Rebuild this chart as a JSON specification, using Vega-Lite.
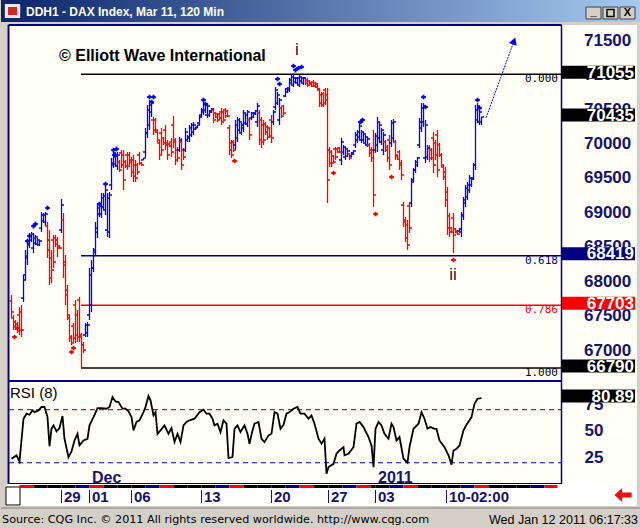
{
"$schema": "https://vega.github.io/schema/vega-lite/v6.json",
"background": "#D4D0C8",
"padding": 0,
"spacing": 0,
"bounds": "flush",
"config": {"view": {"stroke": null}, "font": "Liberation Sans"},
"datasets": {
"bars": [
{"i":1,"o":67764,"h":67851,"l":67517,"c":67604},{"i":2,"o":67517,"h":67561,"l":67342,"c":67386},{"i":3,"o":67459,"h":67488,"l":67342,"c":67357},{"i":4,"o":67430,"h":67459,"l":67299,"c":67328},{"i":5,"o":67561,"h":67676,"l":67270,"c":67342},{"i":6,"o":67604,"h":67705,"l":67241,"c":67342},{"i":7,"o":67807,"h":68141,"l":67749,"c":68068},{"i":8,"o":68141,"h":68504,"l":68068,"c":68417},{"i":9,"o":68388,"h":68649,"l":68286,"c":68591},{"i":10,"o":68577,"h":68751,"l":68533,"c":68707},
{"i":11,"o":68649,"h":68765,"l":68620,"c":68736},{"i":12,"o":68533,"h":68751,"l":68460,"c":68678},{"i":13,"o":68606,"h":68722,"l":68577,"c":68693},{"i":14,"o":68591,"h":68678,"l":68577,"c":68649},{"i":15,"o":68577,"h":68649,"l":68562,"c":68635},{"i":16,"o":68823,"h":69056,"l":68765,"c":69012},{"i":17,"o":68925,"h":69041,"l":68896,"c":69012},{"i":18,"o":68911,"h":69056,"l":68852,"c":69027},{"i":19,"o":68852,"h":68911,"l":68388,"c":68504},{"i":20,"o":68649,"h":68794,"l":67996,"c":68098},
{"i":21,"o":68388,"h":68504,"l":68025,"c":68214},{"i":22,"o":68649,"h":68722,"l":68243,"c":68330},{"i":23,"o":68678,"h":68722,"l":68548,"c":68591},{"i":24,"o":68649,"h":68693,"l":68402,"c":68533},{"i":25,"o":68562,"h":68577,"l":68519,"c":68533},{"i":26,"o":68794,"h":69245,"l":68751,"c":69157},{"i":27,"o":68940,"h":69041,"l":68098,"c":68286},{"i":28,"o":68330,"h":68431,"l":67705,"c":67851},{"i":29,"o":67923,"h":67996,"l":67488,"c":67561},{"i":30,"o":67517,"h":67561,"l":67168,"c":67226},
{"i":31,"o":67241,"h":67270,"l":67125,"c":67154},{"i":32,"o":67400,"h":67444,"l":67168,"c":67226},{"i":33,"o":67705,"h":67778,"l":67154,"c":67270},{"i":34,"o":67561,"h":67633,"l":67168,"c":67241},{"i":35,"o":67778,"h":67822,"l":67168,"c":67270},{"i":36,"o":67241,"h":67299,"l":66790,"c":67125},{"i":37,"o":67125,"h":67168,"l":67008,"c":67052},{"i":38,"o":67270,"h":67444,"l":67241,"c":67415},{"i":39,"o":67299,"h":67459,"l":67241,"c":67415},{"i":40,"o":67561,"h":68243,"l":67488,"c":68141},
{"i":41,"o":67705,"h":68359,"l":67604,"c":68243},{"i":42,"o":68243,"h":68533,"l":68185,"c":68475},{"i":43,"o":68504,"h":68911,"l":68431,"c":68823},{"i":44,"o":68765,"h":69186,"l":68678,"c":69114},{"i":45,"o":69027,"h":69186,"l":68983,"c":69143},{"i":46,"o":69027,"h":69332,"l":68969,"c":69259},{"i":47,"o":69128,"h":69332,"l":69085,"c":69288},{"i":48,"o":69085,"h":69448,"l":69012,"c":69375},{"i":49,"o":68794,"h":69332,"l":68693,"c":69259},{"i":50,"o":68765,"h":69346,"l":68678,"c":69303},
{"i":51,"o":69448,"h":69840,"l":69375,"c":69767},{"i":52,"o":69738,"h":69956,"l":69695,"c":69913},{"i":53,"o":69753,"h":69913,"l":69709,"c":69869},{"i":54,"o":69724,"h":69927,"l":69666,"c":69883},{"i":55,"o":69782,"h":69811,"l":69637,"c":69666},{"i":56,"o":69913,"h":69956,"l":69695,"c":69738},{"i":57,"o":69883,"h":69956,"l":69375,"c":69520},{"i":58,"o":69782,"h":69811,"l":69695,"c":69724},{"i":59,"o":69883,"h":69927,"l":69666,"c":69724},{"i":60,"o":69883,"h":69927,"l":69738,"c":69782},
{"i":61,"o":69811,"h":69854,"l":69564,"c":69637},{"i":62,"o":69811,"h":69883,"l":69491,"c":69578},{"i":63,"o":69738,"h":69811,"l":69491,"c":69549},{"i":64,"o":69738,"h":69767,"l":69593,"c":69637},{"i":65,"o":69883,"h":69927,"l":69738,"c":69767},{"i":66,"o":69767,"h":69782,"l":69724,"c":69738},{"i":67,"o":69811,"h":69840,"l":69811,"c":69840},{"i":68,"o":69927,"h":70276,"l":69854,"c":70203},{"i":69,"o":70203,"h":70609,"l":70130,"c":70537},{"i":70,"o":70319,"h":70682,"l":70246,"c":70609},
{"i":71,"o":70508,"h":70682,"l":70435,"c":70638},{"i":72,"o":70392,"h":70435,"l":70174,"c":70246},{"i":73,"o":70392,"h":70421,"l":70203,"c":70246},{"i":74,"o":70217,"h":70246,"l":70072,"c":70101},{"i":75,"o":70058,"h":70101,"l":69811,"c":69883},{"i":76,"o":70203,"h":70276,"l":69883,"c":69956},{"i":77,"o":70130,"h":70145,"l":70029,"c":70058},{"i":78,"o":70246,"h":70319,"l":69956,"c":70029},{"i":79,"o":70058,"h":70101,"l":69811,"c":69883},{"i":80,"o":70043,"h":70058,"l":70000,"c":70014},
{"i":81,"o":70072,"h":70130,"l":69854,"c":69927},{"i":82,"o":70319,"h":70450,"l":69985,"c":70101},{"i":83,"o":70072,"h":70130,"l":69738,"c":69811},{"i":84,"o":69956,"h":70000,"l":69782,"c":69840},{"i":85,"o":69956,"h":70145,"l":69927,"c":70101},{"i":86,"o":70072,"h":70130,"l":69666,"c":69738},{"i":87,"o":69956,"h":69985,"l":69811,"c":69854},{"i":88,"o":69956,"h":70276,"l":69927,"c":70217},{"i":89,"o":70101,"h":70174,"l":70072,"c":70145},{"i":90,"o":70130,"h":70319,"l":70072,"c":70276},
{"i":91,"o":70174,"h":70348,"l":70145,"c":70319},{"i":92,"o":70217,"h":70363,"l":70174,"c":70319},{"i":93,"o":70261,"h":70290,"l":70246,"c":70290},{"i":94,"o":70276,"h":70319,"l":70276,"c":70319},{"i":95,"o":70348,"h":70464,"l":70319,"c":70435},{"i":96,"o":70464,"h":70566,"l":70435,"c":70537},{"i":97,"o":70508,"h":70653,"l":70464,"c":70624},{"i":98,"o":70537,"h":70638,"l":70493,"c":70609},{"i":99,"o":70464,"h":70638,"l":70421,"c":70595},{"i":100,"o":70464,"h":70537,"l":70435,"c":70522},
{"i":101,"o":70508,"h":70566,"l":70493,"c":70551},{"i":102,"o":70537,"h":70566,"l":70348,"c":70392},{"i":103,"o":70493,"h":70508,"l":70421,"c":70435},{"i":104,"o":70479,"h":70493,"l":70363,"c":70392},{"i":105,"o":70479,"h":70493,"l":70392,"c":70421},{"i":106,"o":70508,"h":70566,"l":70319,"c":70363},{"i":107,"o":70508,"h":70537,"l":70363,"c":70392},{"i":108,"o":70537,"h":70566,"l":70421,"c":70450},{"i":109,"o":70522,"h":70537,"l":70435,"c":70450},{"i":110,"o":70276,"h":70319,"l":69883,"c":69956},
{"i":111,"o":70058,"h":70101,"l":69840,"c":69883},{"i":112,"o":70072,"h":70101,"l":69927,"c":69956},{"i":113,"o":70029,"h":70392,"l":69956,"c":70319},{"i":114,"o":70130,"h":70435,"l":70072,"c":70392},{"i":115,"o":70246,"h":70421,"l":70217,"c":70363},{"i":116,"o":70203,"h":70348,"l":70174,"c":70319},{"i":117,"o":70276,"h":70537,"l":70217,"c":70493},{"i":118,"o":70348,"h":70493,"l":70319,"c":70464},{"i":119,"o":70334,"h":70537,"l":70290,"c":70508},{"i":120,"o":70392,"h":70421,"l":70101,"c":70174},
{"i":121,"o":70421,"h":70508,"l":70392,"c":70493},{"i":122,"o":70435,"h":70508,"l":70421,"c":70493},{"i":123,"o":70479,"h":70537,"l":70464,"c":70522},{"i":124,"o":70363,"h":70638,"l":70290,"c":70595},{"i":125,"o":70493,"h":70537,"l":70029,"c":70101},{"i":126,"o":70392,"h":70435,"l":69985,"c":70072},{"i":127,"o":70319,"h":70392,"l":70029,"c":70101},{"i":128,"o":70334,"h":70363,"l":70174,"c":70217},{"i":129,"o":70290,"h":70319,"l":70101,"c":70145},{"i":130,"o":70276,"h":70290,"l":70130,"c":70159},
{"i":131,"o":70392,"h":70464,"l":70058,"c":70130},{"i":132,"o":70363,"h":70537,"l":70319,"c":70508},{"i":133,"o":70580,"h":70871,"l":70537,"c":70827},{"i":134,"o":70638,"h":70798,"l":70609,"c":70755},{"i":135,"o":70392,"h":70711,"l":70319,"c":70682},{"i":136,"o":70566,"h":70580,"l":70421,"c":70450},{"i":137,"o":70595,"h":70609,"l":70464,"c":70493},{"i":138,"o":70740,"h":70856,"l":70726,"c":70842},{"i":139,"o":70798,"h":70871,"l":70784,"c":70856},{"i":140,"o":70827,"h":71001,"l":70798,"c":70972},
{"i":141,"o":70929,"h":71055,"l":70900,"c":71016},{"i":142,"o":70900,"h":71045,"l":70871,"c":71001},{"i":143,"o":70943,"h":71016,"l":70929,"c":71001},{"i":144,"o":70929,"h":71016,"l":70900,"c":71001},{"i":145,"o":70900,"h":71045,"l":70871,"c":71016},{"i":146,"o":70958,"h":71016,"l":70929,"c":71001},{"i":147,"o":70929,"h":71016,"l":70900,"c":71001},{"i":148,"o":71001,"h":71016,"l":70900,"c":70929},{"i":149,"o":70972,"h":71001,"l":70871,"c":70900},{"i":150,"o":70958,"h":70972,"l":70900,"c":70914},
{"i":151,"o":70929,"h":70943,"l":70871,"c":70885},{"i":152,"o":70943,"h":70972,"l":70871,"c":70885},{"i":153,"o":70929,"h":70943,"l":70856,"c":70871},{"i":154,"o":70914,"h":70929,"l":70827,"c":70842},{"i":155,"o":70827,"h":70856,"l":70580,"c":70638},{"i":156,"o":70755,"h":70798,"l":70580,"c":70609},{"i":157,"o":70769,"h":70798,"l":70580,"c":70638},{"i":158,"o":70827,"h":70856,"l":70609,"c":70682},{"i":159,"o":70755,"h":70856,"l":69186,"c":69520},{"i":160,"o":69956,"h":70000,"l":69709,"c":69767},
{"i":161,"o":69927,"h":69956,"l":69709,"c":69767},{"i":162,"o":69869,"h":69883,"l":69767,"c":69782},{"i":163,"o":69971,"h":70000,"l":69811,"c":69854},{"i":164,"o":69971,"h":69985,"l":69913,"c":69927},{"i":165,"o":69985,"h":70000,"l":69913,"c":69927},{"i":166,"o":69811,"h":70130,"l":69738,"c":70072},{"i":167,"o":69927,"h":70029,"l":69883,"c":70000},{"i":168,"o":69854,"h":70000,"l":69811,"c":69971},{"i":169,"o":69869,"h":69956,"l":69854,"c":69942},{"i":170,"o":69898,"h":69913,"l":69811,"c":69840},
{"i":171,"o":69869,"h":69927,"l":69854,"c":69913},{"i":172,"o":69898,"h":69956,"l":69883,"c":69942},{"i":173,"o":70029,"h":70217,"l":69985,"c":70174},{"i":174,"o":70101,"h":70246,"l":70058,"c":70217},{"i":175,"o":70145,"h":70348,"l":70101,"c":70305},{"i":176,"o":70101,"h":70246,"l":70058,"c":70217},{"i":177,"o":70101,"h":70217,"l":70072,"c":70188},{"i":178,"o":70058,"h":70174,"l":70029,"c":70145},{"i":179,"o":70029,"h":70145,"l":70000,"c":70116},{"i":180,"o":70029,"h":70058,"l":69854,"c":69913},
{"i":181,"o":69956,"h":70000,"l":69782,"c":69840},{"i":182,"o":69956,"h":70246,"l":69128,"c":69303},{"i":183,"o":69956,"h":70203,"l":69913,"c":70159},{"i":184,"o":70029,"h":70435,"l":69927,"c":70363},{"i":185,"o":70130,"h":70363,"l":70072,"c":70319},{"i":186,"o":70072,"h":70276,"l":70029,"c":70246},{"i":187,"o":69956,"h":70217,"l":69883,"c":70174},{"i":188,"o":70072,"h":70101,"l":69927,"c":69956},{"i":189,"o":70000,"h":70029,"l":69782,"c":69840},{"i":190,"o":70101,"h":70174,"l":69666,"c":69738},
{"i":191,"o":70058,"h":70392,"l":70000,"c":70348},{"i":192,"o":70130,"h":70406,"l":70072,"c":70363},{"i":193,"o":70072,"h":70101,"l":69811,"c":69883},{"i":194,"o":69869,"h":69883,"l":69811,"c":69825},{"i":195,"o":69927,"h":69956,"l":69666,"c":69738},{"i":196,"o":69767,"h":69811,"l":69520,"c":69593},{"i":197,"o":69157,"h":69201,"l":68838,"c":68911},{"i":198,"o":68940,"h":68983,"l":68620,"c":68678},{"i":199,"o":68867,"h":68940,"l":68504,"c":68577},{"i":200,"o":69143,"h":69186,"l":68751,"c":68823},
{"i":201,"o":69186,"h":69549,"l":69128,"c":69491},{"i":202,"o":69520,"h":69695,"l":69491,"c":69666},{"i":203,"o":69666,"h":69811,"l":69622,"c":69782},{"i":204,"o":69738,"h":69854,"l":69709,"c":69840},{"i":205,"o":70029,"h":70421,"l":69985,"c":70363},{"i":206,"o":70276,"h":70638,"l":70217,"c":70566},{"i":207,"o":70363,"h":70638,"l":70290,"c":70595},{"i":208,"o":69840,"h":70392,"l":69767,"c":70319},{"i":209,"o":69854,"h":70029,"l":69811,"c":69985},{"i":210,"o":69985,"h":70029,"l":69782,"c":69840},
{"i":211,"o":69956,"h":69985,"l":69811,"c":69840},{"i":212,"o":70130,"h":70217,"l":69622,"c":69738},{"i":213,"o":70058,"h":70101,"l":69811,"c":69883},{"i":214,"o":70174,"h":70246,"l":69564,"c":69666},{"i":215,"o":70029,"h":70058,"l":69854,"c":69883},{"i":216,"o":69883,"h":69913,"l":69709,"c":69738},{"i":217,"o":69709,"h":69738,"l":69520,"c":69564},{"i":218,"o":69637,"h":69709,"l":69128,"c":69230},{"i":219,"o":69346,"h":69419,"l":68722,"c":68823},{"i":220,"o":68998,"h":69041,"l":68693,"c":68765},
{"i":221,"o":68823,"h":68838,"l":68751,"c":68765},{"i":222,"o":68969,"h":69041,"l":68460,"c":68722},{"i":223,"o":68809,"h":68823,"l":68751,"c":68765},{"i":224,"o":68780,"h":68794,"l":68722,"c":68736},{"i":225,"o":68780,"h":68823,"l":68765,"c":68809},{"i":226,"o":68765,"h":69056,"l":68693,"c":69012},{"i":227,"o":68998,"h":69274,"l":68940,"c":69230},{"i":228,"o":69186,"h":69448,"l":69128,"c":69404},{"i":229,"o":69274,"h":69491,"l":69230,"c":69448},{"i":230,"o":69375,"h":69593,"l":69332,"c":69549},
{"i":231,"o":69448,"h":69564,"l":69419,"c":69535},{"i":232,"o":69549,"h":69767,"l":69520,"c":69738},{"i":233,"o":69738,"h":70609,"l":69666,"c":70537},{"i":234,"o":70392,"h":70638,"l":70348,"c":70595},{"i":235,"o":70363,"h":70566,"l":70319,"c":70508},{"i":236,"o":70363,"h":70435,"l":70319,"c":70435}
],
"fractals": [
{"i":9,"p":68635,"side":"hi"},{"i":10,"p":68707,"side":"hi"},{"i":12,"p":68852,"side":"hi"},{"i":13,"p":68882,"side":"hi"},{"i":19,"p":69114,"side":"hi"},{"i":45,"p":69172,"side":"hi"},{"i":48,"p":69462,"side":"hi"},{"i":52,"p":69956,"side":"hi"},{"i":53.5,"p":69971,"side":"hi"},{"i":52.5,"p":69883,"side":"hi"},{"i":70,"p":70726,"side":"hi"},{"i":72,"p":70726,"side":"hi"},{"i":71,"p":70653,"side":"hi"},{"i":97,"p":70682,"side":"hi"},{"i":98,"p":70624,"side":"hi"},{"i":134,"p":70987,"side":"hi"},{"i":135,"p":70914,"side":"hi"},{"i":142,"p":71176,"side":"hi"},{"i":143,"p":71117,"side":"hi"},{"i":144.5,"p":71147,"side":"hi"},{"i":146,"p":71161,"side":"hi"},{"i":175.5,"p":70363,"side":"hi"},{"i":176.5,"p":70392,"side":"hi"},{"i":207,"p":70726,"side":"hi"},{"i":208,"p":70580,"side":"hi"},{"i":234,"p":70682,"side":"hi"},{"i":235,"p":70566,"side":"hi"},
{"i":2.5,"p":67241,"side":"lo"},{"i":4,"p":67372,"side":"lo"},{"i":31,"p":67023,"side":"lo"},{"i":32,"p":67081,"side":"lo"},{"i":112.5,"p":69796,"side":"lo"},{"i":162,"p":69622,"side":"lo"},{"i":183,"p":69027,"side":"lo"},{"i":191,"p":69564,"side":"lo"},{"i":222,"p":68359,"side":"lo"}
],
"levels": [{"level":71055,"ratio":"0.000"},{"level":68419,"ratio":"0.618"},{"level":67703,"ratio":"0.786"},{"level":66790,"ratio":"1.000"}],
"last": [{"close":70435}],
"arrow": [{"i":238.25,"p":70421},{"i":252.25,"p":71539}],
"waves": [{"wave":"i","i":143.75,"p":71408},{"wave":"ii","i":221.75,"p":68134}],
"rsi": [
{"i":1,"v":23.8},{"i":3.5,"v":26.9},{"i":5,"v":21.2},{"i":7,"v":61.5},{"i":8.5,"v":66.2},{"i":10,"v":65.2},{"i":11.5,"v":69.3},{"i":12.5,"v":67.7},{"i":14.5,"v":69.3},{"i":16,"v":72.5},{"i":17.5,"v":72.5},{"i":19,"v":63.0},{"i":20,"v":35.7},{"i":21,"v":52.0},{"i":22,"v":55.2},{"i":23.5,"v":49.5},{"i":25,"v":52.7},{"i":26.5,"v":64.0},{"i":27.5,"v":42.6},{"i":29.5,"v":25.3},{"i":31,"v":30.7},{"i":32.5,"v":41.0},{"i":34,"v":47.3},{"i":35,"v":36.3},{"i":37,"v":41.0},{"i":39,"v":42.6},{"i":40,"v":55.2},{"i":42,"v":63.0},{"i":44,"v":71.5},{"i":46,"v":71.5},{"i":48.5,"v":70.9},{"i":50,"v":72.5},{"i":51.5,"v":81.9},{"i":53,"v":77.8},{"i":54.5,"v":77.2},{"i":56.5,"v":70.9},{"i":58,"v":70.9},{"i":59.5,"v":68.4},{"i":61,"v":63.0},{"i":62,"v":50.5},{"i":63.5,"v":58.4},{"i":65,"v":60.0},{"i":67,"v":67.7},{"i":68,"v":72.5},{"i":69.5,"v":82.9},{"i":70.5,"v":78.8},{"i":72,"v":64.6},{"i":73,"v":67.7},{"i":74,"v":47.3},{"i":75.5,"v":50.5},{"i":77.5,"v":55.2},{"i":79.5,"v":47.3},{"i":81,"v":52.7},{"i":82.5,"v":39.5},{"i":84,"v":47.3},{"i":85.5,"v":39.5},{"i":87,"v":55.2},{"i":88.5,"v":58.4},{"i":90,"v":60.0},{"i":92.5,"v":61.5},{"i":95,"v":67.7},{"i":97,"v":69.9},{"i":98.5,"v":66.2},{"i":100,"v":66.2},{"i":101.5,"v":61.5},{"i":102.5,"v":55.2},{"i":104,"v":56.8},{"i":105.5,"v":48.9},{"i":107,"v":60.0},{"i":108.5,"v":56.8},{"i":109.5,"v":24.4},{"i":111.5,"v":25.3},{"i":112.5,"v":52.0},{"i":114,"v":55.2},{"i":115.5,"v":48.9},{"i":117.5,"v":55.2},{"i":119,"v":47.3},{"i":120,"v":37.9},{"i":121.5,"v":50.5},{"i":122.5,"v":56.8},{"i":124.5,"v":58.4},{"i":126,"v":42.6},{"i":127.5,"v":39.5},{"i":129.5,"v":45.8},{"i":131,"v":47.3},{"i":132.5,"v":67.7},{"i":134,"v":66.2},{"i":135.5,"v":52.0},{"i":137,"v":55.8},{"i":138.5,"v":66.2},{"i":140,"v":67.7},{"i":142,"v":70.9},{"i":144,"v":72.5},{"i":145.5,"v":66.2},{"i":147.5,"v":66.2},{"i":149.5,"v":61.5},{"i":151,"v":64.6},{"i":152.5,"v":56.8},{"i":154.5,"v":42.6},{"i":156,"v":38.0},{"i":157.5,"v":42.6},{"i":158.5,"v":9.6},{"i":159.5,"v":15.9},{"i":162,"v":19.0},{"i":163.5,"v":28.5},{"i":165,"v":31.6},{"i":167,"v":34.7},{"i":167.5,"v":27.0},{"i":169.5,"v":28.5},{"i":172,"v":34.7},{"i":173.5,"v":56.8},{"i":175,"v":58.4},{"i":177,"v":53.6},{"i":179.5,"v":44.2},{"i":181,"v":36.3},{"i":182,"v":15.9},{"i":183,"v":52.0},{"i":184.5,"v":58.4},{"i":186,"v":55.2},{"i":187.5,"v":47.3},{"i":189.5,"v":42.6},{"i":191,"v":56.8},{"i":192,"v":53.6},{"i":193.5,"v":41.0},{"i":195,"v":44.2},{"i":197,"v":23.8},{"i":199,"v":20.1},{"i":200,"v":34.7},{"i":202,"v":52.0},{"i":204.5,"v":56.8},{"i":206,"v":67.7},{"i":207.5,"v":61.5},{"i":209,"v":52.0},{"i":210.5,"v":53.6},{"i":212.5,"v":52.0},{"i":213.5,"v":52.0},{"i":215,"v":41.0},{"i":217.5,"v":34.7},{"i":219.5,"v":27.0},{"i":221,"v":18.2},{"i":222,"v":31.6},{"i":223.5,"v":33.2},{"i":225,"v":36.3},{"i":227,"v":50.5},{"i":228.5,"v":55.8},{"i":230,"v":60.0},{"i":231,"v":63.0},{"i":232.5,"v":75.6},{"i":234,"v":80.3},{"i":236,"v":80.89}
],
"rsiLevels": [{"lvl":70,"zone":"overbought"},{"lvl":20,"zone":"oversold"}],
"rsiLast": [{"v":80.89}],
"months": [{"m":"Dec","i":41.25},{"m":"2011","i":184.25}],
"dates": [{"i":26,"t":"29"},{"i":40,"t":"01"},{"i":61,"t":"06"},{"i":96,"t":"13"},{"i":131,"t":"20"},{"i":159.5,"t":"27"},{"i":183,"t":"03"},{"i":218.5,"t":"10-02:00"}],
"days": [
{"s":5,"e":12,"wd":"Wed"},{"s":12,"e":19,"wd":"Thu"},{"s":19,"e":26,"wd":"Fri"},{"s":26,"e":33,"wd":"Mon"},{"s":33,"e":40,"wd":"Tue"},{"s":40,"e":47,"wd":"Wed"},{"s":47,"e":54,"wd":"Thu"},{"s":54,"e":61,"wd":"Fri"},{"s":61,"e":68,"wd":"Mon"},{"s":68,"e":75,"wd":"Tue"},{"s":75,"e":82,"wd":"Wed"},{"s":82,"e":89,"wd":"Thu"},{"s":89,"e":96,"wd":"Fri"},{"s":96,"e":103,"wd":"Mon"},{"s":103,"e":110,"wd":"Tue"},{"s":110,"e":117,"wd":"Wed"},{"s":117,"e":124,"wd":"Thu"},{"s":124,"e":131,"wd":"Fri"},{"s":131,"e":138,"wd":"Mon"},{"s":138,"e":145,"wd":"Tue"},{"s":145,"e":152,"wd":"Wed"},{"s":152,"e":159.5,"wd":"Thu"},{"s":159.5,"e":166.5,"wd":"Mon"},{"s":166.5,"e":173.5,"wd":"Tue"},{"s":173.5,"e":180.5,"wd":"Wed"},{"s":180.5,"e":183,"wd":"Thu"},{"s":183,"e":190,"wd":"Mon"},{"s":190,"e":197,"wd":"Tue"},{"s":197,"e":204,"wd":"Wed"},{"s":204,"e":211,"wd":"Thu"},{"s":211,"e":218.5,"wd":"Fri"},{"s":218.5,"e":225.5,"wd":"Mon"},{"s":225.5,"e":232.5,"wd":"Tue"},{"s":232.5,"e":239.5,"wd":"Wed"},{"s":239.5,"e":246.5,"wd":"Thu"},{"s":246.5,"e":253.5,"wd":"Fri"},{"s":253.5,"e":260.5,"wd":"Mon"},{"s":260.5,"e":267.5,"wd":"Tue"},{"s":267.5,"e":274,"wd":"Wed"}
],
"priceTicks": [{"v":67000},{"v":67500},{"v":68000},{"v":68500},{"v":69000},{"v":69500},{"v":70000},{"v":70500},{"v":71000},{"v":71500}]
},
"vconcat": [
{
"width": 640, "height": 25,
"layer": [
{"data": {"values": [{}]}, "mark": {"type": "rect", "fill": {"gradient": "linear", "x1": 0, "y1": 0, "x2": 1, "y2": 0, "stops": [{"offset": 0, "color": "#0A246A"}, {"offset": 1, "color": "#A6CAF0"}]}},
 "encoding": {"x": {"datum": 0, "type": "quantitative", "scale": {"domain": [0, 1], "nice": false, "zero": false}, "axis": null}, "x2": {"datum": 1}, "y": {"datum": 1, "type": "quantitative", "scale": {"domain": [0, 1], "nice": false, "zero": false}, "axis": null}, "y2": {"datum": 0.12}}},
{"data": {"values": [{}]}, "mark": {"type": "rect", "fill": "#F2E6E6"}, "encoding": {"x": {"datum": 0.006, "type": "quantitative", "axis": null}, "x2": {"datum": 0.03}, "y": {"datum": 0.84, "type": "quantitative", "axis": null}, "y2": {"datum": 0.28}}},
{"data": {"values": [{}]}, "mark": {"type": "rect", "fill": "#D02828"}, "encoding": {"x": {"datum": 0.011, "type": "quantitative", "axis": null}, "x2": {"datum": 0.025}, "y": {"datum": 0.72, "type": "quantitative", "axis": null}, "y2": {"datum": 0.4}}},
{"data": {"values": [{}]}, "mark": {"type": "text", "text": "DDH1 - DAX Index, Mar 11, 120 Min", "color": "#FFFFFF", "font": "Liberation Sans", "fontWeight": "bold", "fontSize": 12, "align": "left", "baseline": "middle"}, "encoding": {"x": {"datum": 0.039, "type": "quantitative", "axis": null}, "y": {"datum": 0.54, "type": "quantitative", "axis": null}}},
{"data": {"values": [{}]}, "encoding": {"x": {"datum": 0.9258, "type": "quantitative", "axis": null}, "y": {"datum": 0.48, "type": "quantitative", "axis": null}},
 "layer": [{"mark": {"type": "point", "shape": "M-1,-0.8H1V0.8H-1Z", "size": 225, "filled": true, "fill": "#D4D0C8", "stroke": "#404040", "strokeWidth": 1, "opacity": 1}},
  {"mark": {"type": "text", "text": "_", "fontWeight": "bold", "fontSize": 12, "color": "#000000", "baseline": "middle", "dy": -2}}]},
{"data": {"values": [{}]}, "encoding": {"x": {"datum": 0.9523, "type": "quantitative", "axis": null}, "y": {"datum": 0.48, "type": "quantitative", "axis": null}},
 "layer": [{"mark": {"type": "point", "shape": "M-1,-0.8H1V0.8H-1Z", "size": 225, "filled": true, "fill": "#D4D0C8", "stroke": "#404040", "strokeWidth": 1, "opacity": 1}},
  {"mark": {"type": "point", "shape": "M-1,-1H1V1H-1Z", "size": 49, "filled": false, "stroke": "#000000", "strokeWidth": 1.5, "opacity": 1}}]},
{"data": {"values": [{}]}, "encoding": {"x": {"datum": 0.9789, "type": "quantitative", "axis": null}, "y": {"datum": 0.48, "type": "quantitative", "axis": null}},
 "layer": [{"mark": {"type": "point", "shape": "M-1,-0.8H1V0.8H-1Z", "size": 225, "filled": true, "fill": "#D4D0C8", "stroke": "#404040", "strokeWidth": 1, "opacity": 1}},
  {"mark": {"type": "text", "text": "X", "fontWeight": "bold", "fontSize": 11, "color": "#000000", "baseline": "middle"}}]}
]
},
{
"width": 636, "height": 356,
"view": {"fill": "#FFFFF7", "stroke": null},
"layer": [
{"data": {"values": [{}]}, "mark": {"type": "rect", "color": "#D4D0C8"}, "encoding": {"x": {"datum": -4.25, "type": "quantitative", "scale": {"domain": [-4.25, 313.75], "nice": false, "zero": false}, "axis": null}, "x2": {"datum": -1}}},
{"data": {"values": [{}]}, "mark": {"type": "rule", "color": "#000080", "strokeWidth": 2}, "encoding": {"x": {"datum": -0.5, "type": "quantitative", "axis": null}}},
{"data": {"name": "priceTicks"}, "mark": {"type": "text", "font": "Liberation Sans", "fontWeight": "bold", "fontSize": 17, "color": "#141470", "align": "left", "baseline": "middle", "yOffset": -3},
 "encoding": {"x": {"datum": 287.25, "type": "quantitative", "axis": null},
  "y": {"field": "v", "type": "quantitative", "scale": {"domain": [66602, 71771], "nice": false, "zero": false},
   "axis": {"orient": "right", "offset": -76, "labels": false, "ticks": false, "domain": false, "grid": false, "title": null}},
  "text": {"field": "v", "type": "quantitative", "format": "d"}}},
{"data": {"name": "levels"}, "mark": {"type": "rule", "strokeWidth": 1.5},
 "encoding": {"x": {"datum": 35.75, "type": "quantitative", "axis": null}, "x2": {"datum": 276},
  "y": {"field": "level", "type": "quantitative", "title": null},
  "color": {"field": "ratio", "type": "nominal", "scale": {"domain": ["0.000", "0.618", "0.786", "1.000"], "range": ["#000000", "#000080", "#FF0000", "#000000"]}, "legend": null}}},
{"data": {"name": "bars"}, "mark": {"type": "rule", "strokeWidth": 1.3},
 "encoding": {"x": {"field": "i", "type": "quantitative", "axis": null}, "y": {"field": "l", "type": "quantitative", "title": null}, "y2": {"field": "h"},
  "color": {"condition": {"test": "datum.c >= datum.o", "value": "#0000FF"}, "value": "#FF0000"}}},
{"data": {"name": "bars"}, "mark": {"type": "tick", "orient": "horizontal", "size": 2.5, "thickness": 1.5, "xOffset": -1.25, "opacity": 1},
 "encoding": {"x": {"field": "i", "type": "quantitative", "axis": null}, "y": {"field": "o", "type": "quantitative", "title": null},
  "color": {"condition": {"test": "datum.c >= datum.o", "value": "#0000FF"}, "value": "#FF0000"}}},
{"data": {"name": "bars"}, "mark": {"type": "tick", "orient": "horizontal", "size": 2.5, "thickness": 1.5, "xOffset": 1.25, "opacity": 1},
 "encoding": {"x": {"field": "i", "type": "quantitative", "axis": null}, "y": {"field": "c", "type": "quantitative", "title": null},
  "color": {"condition": {"test": "datum.c >= datum.o", "value": "#0000FF"}, "value": "#FF0000"}}},
{"data": {"name": "fractals"}, "mark": {"type": "point", "shape": "cross", "filled": true, "size": 22, "opacity": 1},
 "encoding": {"x": {"field": "i", "type": "quantitative", "axis": null}, "y": {"field": "p", "type": "quantitative", "title": null},
  "color": {"condition": {"test": "datum.side === 'lo'", "value": "#FF0000"}, "value": "#0000FF"}}},
{"data": {"name": "levels"}, "mark": {"type": "text", "font": "DejaVu Sans Mono", "fontSize": 11, "align": "right", "baseline": "middle", "dy": 5},
 "encoding": {"x": {"datum": 274.25, "type": "quantitative", "axis": null}, "y": {"field": "level", "type": "quantitative", "title": null}, "text": {"field": "ratio"}, "color": {"field": "ratio", "type": "nominal", "legend": null}}},
{"data": {"values": [{}]}, "mark": {"type": "rule", "color": "#000080", "strokeWidth": 1.5}, "encoding": {"x": {"datum": 276, "type": "quantitative", "axis": null}}},
{"data": {"values": [{}]}, "mark": {"type": "rule", "color": "#000080", "strokeWidth": 2}, "encoding": {"x": {"datum": -0.5, "type": "quantitative", "axis": null}, "x2": {"datum": 276}, "y": {"datum": 71771, "type": "quantitative"}}},
{"data": {"values": [{}]}, "mark": {"type": "rule", "color": "#000080", "strokeWidth": 2}, "encoding": {"x": {"datum": -0.5, "type": "quantitative", "axis": null}, "x2": {"datum": 276}, "y": {"datum": 66602, "type": "quantitative"}}},
{"data": {"name": "levels"}, "mark": {"type": "tick", "orient": "horizontal", "size": 73, "thickness": 13, "yOffset": -2, "opacity": 1},
 "encoding": {"x": {"datum": 294.5, "type": "quantitative", "axis": null}, "y": {"field": "level", "type": "quantitative", "title": null}, "color": {"field": "ratio", "type": "nominal", "legend": null}}},
{"data": {"name": "levels"}, "mark": {"type": "text", "color": "#FFFFFF", "font": "Liberation Sans", "fontWeight": "bold", "fontSize": 17, "align": "right", "baseline": "middle", "yOffset": -1.5},
 "encoding": {"x": {"datum": 312.25, "type": "quantitative", "axis": null}, "y": {"field": "level", "type": "quantitative", "title": null}, "text": {"field": "level", "type": "quantitative", "format": "d"}}},
{"data": {"name": "last"}, "mark": {"type": "tick", "orient": "horizontal", "size": 73, "thickness": 13, "yOffset": -2, "opacity": 1, "color": "#000000"},
 "encoding": {"x": {"datum": 294.5, "type": "quantitative", "axis": null}, "y": {"field": "close", "type": "quantitative", "title": null}}},
{"data": {"name": "last"}, "mark": {"type": "text", "color": "#FFFFFF", "font": "Liberation Sans", "fontWeight": "bold", "fontSize": 17, "align": "right", "baseline": "middle", "yOffset": -1.5},
 "encoding": {"x": {"datum": 312.25, "type": "quantitative", "axis": null}, "y": {"field": "close", "type": "quantitative", "title": null}, "text": {"field": "close", "type": "quantitative", "format": "d"}}},
{"data": {"name": "arrow"}, "mark": {"type": "line", "color": "#0000FF", "strokeWidth": 1, "strokeDash": [2, 1]},
 "encoding": {"x": {"field": "i", "type": "quantitative", "axis": null}, "y": {"field": "p", "type": "quantitative", "title": null}}},
{"data": {"name": "arrow"}, "transform": [{"filter": "datum.p > 71000"}], "mark": {"type": "point", "shape": "triangle-up", "size": 70, "filled": true, "color": "#0000FF", "angle": 20, "opacity": 1},
 "encoding": {"x": {"field": "i", "type": "quantitative", "axis": null}, "y": {"field": "p", "type": "quantitative", "title": null}}},
{"data": {"name": "waves"}, "mark": {"type": "text", "font": "Liberation Sans", "fontSize": 17, "color": "#1A1A3A", "baseline": "middle"},
 "encoding": {"x": {"field": "i", "type": "quantitative", "axis": null}, "y": {"field": "p", "type": "quantitative", "title": null}, "text": {"field": "wave"}}},
{"data": {"values": [{}]}, "mark": {"type": "text", "text": "© Elliott Wave International", "font": "Liberation Sans", "fontWeight": "bold", "fontSize": 16, "color": "#000000", "align": "left", "baseline": "middle"},
 "encoding": {"x": {"datum": 24.75, "type": "quantitative", "axis": null}, "y": {"datum": 71314, "type": "quantitative"}}}
]
},
{
"width": 636, "height": 103,
"view": {"fill": "#FFFFF7", "stroke": null},
"layer": [
{"data": {"values": [{}]}, "mark": {"type": "rect", "color": "#D4D0C8"}, "encoding": {"x": {"datum": -4.25, "type": "quantitative", "scale": {"domain": [-4.25, 313.75], "nice": false, "zero": false}, "axis": null}, "x2": {"datum": -1}}},
{"data": {"values": [{}]}, "mark": {"type": "rule", "color": "#000080", "strokeWidth": 2}, "encoding": {"x": {"datum": -0.5, "type": "quantitative", "axis": null}}},
{"data": {"name": "rsiLevels"}, "mark": {"type": "rule", "strokeWidth": 1.2, "strokeDash": [5, 4]},
 "encoding": {"x": {"datum": -0.25, "type": "quantitative", "axis": null}, "x2": {"datum": 276},
  "y": {"field": "lvl", "type": "quantitative", "scale": {"domain": [0, 97], "nice": false, "zero": false},
   "axis": {"orient": "right", "offset": -76, "values": [25, 50, 75], "labelAlign": "left", "labelBaseline": "middle", "labelPadding": 23, "labelFont": "Liberation Sans", "labelFontWeight": "bold", "labelFontSize": 17, "labelColor": "#141470", "ticks": false, "tickSize": 0, "domain": false, "grid": false, "title": null, "labelOverlap": false, "labelBound": false, "labelFlush": false}},
  "color": {"condition": {"test": "datum.zone === 'overbought'", "value": "#FF0000"}, "value": "#0000C8"}}},
{"data": {"name": "rsi"}, "mark": {"type": "line", "color": "#000000", "strokeWidth": 1.8},
 "encoding": {"x": {"field": "i", "type": "quantitative", "axis": null}, "y": {"field": "v", "type": "quantitative", "title": null}}},
{"data": {"values": [{}]}, "mark": {"type": "text", "text": "RSI (8)", "font": "Liberation Sans", "fontSize": 15, "color": "#000000", "align": "left", "baseline": "top"},
 "encoding": {"x": {"datum": 0.25, "type": "quantitative", "axis": null}, "y": {"datum": 92, "type": "quantitative"}}},
{"data": {"name": "months"}, "mark": {"type": "text", "font": "Liberation Sans", "fontWeight": "bold", "fontSize": 16, "color": "#141470", "align": "left", "baseline": "middle"},
 "encoding": {"x": {"field": "i", "type": "quantitative", "axis": null}, "y": {"datum": 5.6, "type": "quantitative"}, "text": {"field": "m"}}},
{"data": {"values": [{}]}, "mark": {"type": "rule", "color": "#000080", "strokeWidth": 1.5}, "encoding": {"x": {"datum": 276, "type": "quantitative", "axis": null}}},
{"data": {"values": [{}]}, "mark": {"type": "rule", "color": "#000080", "strokeWidth": 2}, "encoding": {"x": {"datum": -0.5, "type": "quantitative", "axis": null}, "x2": {"datum": 276}, "y": {"datum": 97, "type": "quantitative"}}},
{"data": {"values": [{}]}, "mark": {"type": "rule", "color": "#000080", "strokeWidth": 2}, "encoding": {"x": {"datum": -0.5, "type": "quantitative", "axis": null}, "x2": {"datum": 276}, "y": {"datum": 0, "type": "quantitative"}}},
{"data": {"name": "rsiLast"}, "mark": {"type": "tick", "orient": "horizontal", "size": 73, "thickness": 13, "yOffset": -2, "opacity": 1, "color": "#000000"},
 "encoding": {"x": {"datum": 294.5, "type": "quantitative", "axis": null}, "y": {"field": "v", "type": "quantitative", "title": null}}},
{"data": {"name": "rsiLast"}, "mark": {"type": "text", "color": "#FFFFFF", "font": "Liberation Sans", "fontWeight": "bold", "fontSize": 17, "align": "right", "baseline": "middle", "yOffset": -1.5},
 "encoding": {"x": {"datum": 312.25, "type": "quantitative", "axis": null}, "y": {"field": "v", "type": "quantitative", "title": null}, "text": {"field": "v", "type": "quantitative", "format": ".2f"}}}
]
},
{
"width": 636, "height": 22,
"view": {"fill": "#FFFFFF", "stroke": null},
"layer": [
{"data": {"values": [{}]}, "mark": {"type": "rect", "color": "#D4D0C8"}, "encoding": {"x": {"datum": -4.25, "type": "quantitative", "scale": {"domain": [-4.25, 313.75], "nice": false, "zero": false}, "axis": null}, "x2": {"datum": -1.75}}},
{"data": {"values": [{}]}, "mark": {"type": "rect", "fill": "#FFFFFF", "stroke": "#000000", "strokeWidth": 1}, "encoding": {"x": {"datum": -1.75, "type": "quantitative", "axis": null}, "x2": {"datum": 5.25}, "y": {"datum": 0.864, "type": "quantitative", "scale": {"domain": [0, 1], "nice": false, "zero": false}, "axis": null}, "y2": {"datum": 0.045}}},
{"data": {"name": "days"}, "mark": {"type": "rect"},
 "encoding": {"x": {"field": "s", "type": "quantitative", "axis": null}, "x2": {"field": "e"}, "y": {"datum": 0.955, "type": "quantitative", "axis": null}, "y2": {"datum": 0.818},
  "color": {"field": "wd", "type": "nominal", "scale": {"domain": ["Mon", "Tue", "Wed", "Thu", "Fri"], "range": ["#000000", "#FFFFFF", "#00C000", "#FF0000", "#0000FF"]}, "legend": null}}},
{"data": {"name": "dates"}, "mark": {"type": "rule", "color": "#141470", "strokeWidth": 1},
 "encoding": {"x": {"field": "i", "type": "quantitative", "axis": null}, "y": {"datum": 0.727, "type": "quantitative", "axis": null}, "y2": {"datum": 0.136}}},
{"data": {"name": "dates"}, "mark": {"type": "text", "font": "Liberation Sans", "fontWeight": "bold", "fontSize": 15, "color": "#141470", "align": "left", "baseline": "middle", "dx": 2.5},
 "encoding": {"x": {"field": "i", "type": "quantitative", "axis": null}, "y": {"datum": 0.43, "type": "quantitative", "axis": null}, "text": {"field": "t"}}},
{"data": {"values": [{}]}, "mark": {"type": "point", "shape": "M-1,0L-0.1,-0.8L-0.1,-0.3L1,-0.3L1,0.3L-0.1,0.3L-0.1,0.8Z", "size": 300, "filled": true, "color": "#EE1111", "opacity": 1},
 "encoding": {"x": {"datum": 306.75, "type": "quantitative", "axis": null}, "y": {"datum": 0.5, "type": "quantitative", "axis": null}}}
]
},
{
"width": 640, "height": 22,
"layer": [
{"data": {"values": [{}]}, "mark": {"type": "rule", "color": "#808080", "strokeWidth": 1}, "encoding": {"y": {"datum": 0.909, "type": "quantitative", "scale": {"domain": [0, 1], "nice": false, "zero": false}, "axis": null}}},
{"data": {"values": [{}]}, "mark": {"type": "text", "text": "Source: CQG Inc. © 2011 All rights reserved worldwide. http://www.cqg.com", "font": "DejaVu Sans", "fontSize": 11.2, "color": "#000000", "align": "left", "baseline": "middle"},
 "encoding": {"x": {"datum": 0.0016, "type": "quantitative", "scale": {"domain": [0, 1], "nice": false, "zero": false}, "axis": null}, "y": {"datum": 0.364, "type": "quantitative", "axis": null}}},
{"data": {"values": [{}]}, "mark": {"type": "text", "text": "Wed Jan 12 2011 06:17:33", "font": "Liberation Sans", "fontSize": 12.5, "color": "#000000", "align": "right", "baseline": "middle"},
 "encoding": {"x": {"datum": 0.9953, "type": "quantitative", "axis": null}, "y": {"datum": 0.364, "type": "quantitative", "axis": null}}}
]
}
]
}
